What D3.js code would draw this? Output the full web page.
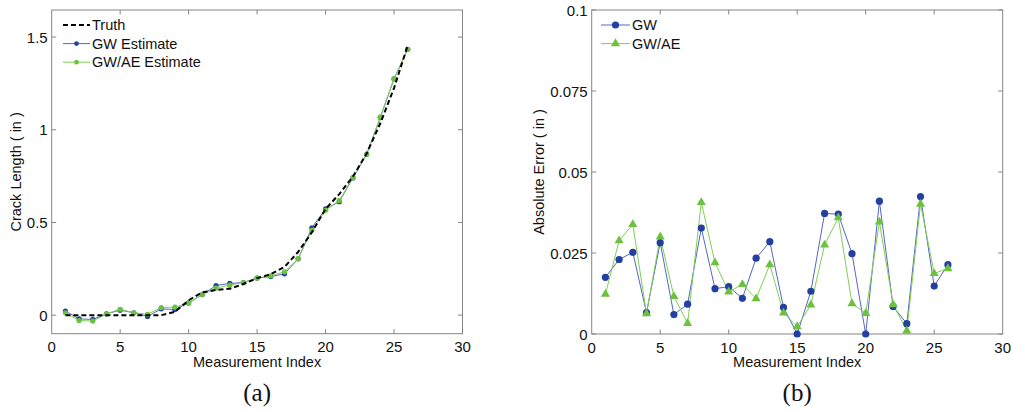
<!DOCTYPE html>
<html>
<head>
<meta charset="utf-8">
<script src="https://cdnjs.cloudflare.com/ajax/libs/d3/7.8.5/d3.min.js"></script>
<style>
  body { margin: 0; background: #fff; }
  svg text { font-family: "Liberation Sans", Arial, sans-serif; fill: #111; }
</style>
</head>
<body>
<div id="chart"></div>
<script>
// measurement index
var idx = [1,2,3,4,5,6,7,8,9,10,11,12,13,14,15,16,17,18,19,20,21,22,23,24,25,26];

// (a) crack length (in)
var truth = [0,0,0,0,0,0,0,0,0.018,0.08,0.123,0.136,0.142,0.168,0.2,0.221,0.26,0.341,0.447,0.573,0.653,0.748,0.872,1.035,1.225,1.455];
var gwEst = [0.022,-0.02,-0.023,0.007,0.027,0.013,-0.007,0.034,0.03,0.066,0.111,0.16,0.171,0.176,0.2,0.208,0.223,0.304,0.471,0.573,0.612,0.74,0.868,1.066,1.275,1.434];
var aeEst = [0.013,-0.029,-0.032,0.007,0.032,0.013,0.005,0.041,0.043,0.066,0.111,0.146,0.162,0.176,0.2,0.212,0.234,0.305,0.458,0.566,0.618,0.742,0.868,1.069,1.275,1.434];

// (b) absolute error (in)
var gwErr = [0.0175,0.023,0.0252,0.0066,0.0282,0.006,0.0092,0.0327,0.014,0.0146,0.011,0.0234,0.0285,0.0082,0,0.0132,0.0372,0.037,0.0248,0,0.041,0.0085,0.0032,0.0424,0.0148,0.0214];
var aeErr = [0.0123,0.0288,0.0338,0.0063,0.030,0.0116,0.0033,0.0406,0.022,0.013,0.0153,0.0109,0.0214,0.0065,0.0023,0.009,0.0275,0.0359,0.0094,0.0064,0.0346,0.0091,0.001,0.0401,0.0187,0.0202];

var xTicks = [0,5,10,15,20,25,30];
var yTicksA = [0,0.5,1,1.5];
var yTickLabelsA = ["0","0.5","1","1.5"];
var yTicksB = [0,0.025,0.05,0.075,0.1];
var yTickLabelsB = ["0","0.025","0.05","0.075","0.1"];

var blue = "#2340a0", blueLine = "#5566c4";
var green = "#6cc23e", greenLine = "#7fcf55";
var frameColor = "#858585";

var svg = d3.select("#chart").append("svg")
  .attr("width", 1012)
  .attr("height", 412);

function panel(opt) {
  var x = d3.scaleLinear().domain([0, 30]).range([opt.left, opt.right]);
  var y = d3.scaleLinear().domain(opt.yDomain).range([opt.bottom, opt.top]);
  var g = svg.append("g");

  // inward ticks on all four sides
  var tl = 4.5;
  g.selectAll(".xt").data(xTicks.slice(1, -1)).enter().append("path")
    .attr("d", function(d) {
      return "M" + x(d) + "," + opt.bottom + "v" + (-tl) + "M" + x(d) + "," + opt.top + "v" + tl;
    })
    .attr("stroke", frameColor).attr("stroke-width", 1);
  g.selectAll(".yt").data(opt.yTicks).enter().append("path")
    .attr("d", function(d) {
      return "M" + opt.left + "," + y(d) + "h" + tl + "M" + opt.right + "," + y(d) + "h" + (-tl);
    })
    .attr("stroke", frameColor).attr("stroke-width", 1);

  g.append("rect")
    .attr("x", opt.left).attr("y", opt.top)
    .attr("width", opt.right - opt.left).attr("height", opt.bottom - opt.top)
    .attr("fill", "none").attr("stroke", frameColor).attr("stroke-width", 1);

  g.selectAll(".xl").data(xTicks).enter().append("text")
    .attr("x", function(d) { return x(d); })
    .attr("y", opt.bottom + 18.5)
    .attr("text-anchor", "middle")
    .style("font-size", "15px")
    .text(function(d) { return d; });
  g.selectAll(".yl").data(opt.yTicks).enter().append("text")
    .attr("x", opt.left - 4)
    .attr("y", function(d) { return y(d) + 5.5; })
    .attr("text-anchor", "end")
    .style("font-size", "15px")
    .text(function(d, i) { return opt.yLabels[i]; });

  g.append("text")
    .attr("x", (opt.left + opt.right) / 2)
    .attr("y", opt.bottom + 33)
    .attr("text-anchor", "middle")
    .style("font-size", "14.5px")
    .text("Measurement Index");
  g.append("text")
    .attr("transform", "translate(" + opt.yLabelX + "," + ((opt.top + opt.bottom) / 2) + ") rotate(-90)")
    .attr("text-anchor", "middle")
    .style("font-size", "14.5px")
    .text(opt.yLabel);
  g.append("text")
    .attr("x", (opt.left + opt.right) / 2)
    .attr("y", 401)
    .attr("text-anchor", "middle")
    .style("font-family", "'Liberation Serif', 'Times New Roman', serif")
    .style("font-size", "25px")
    .text(opt.caption);

  return { g: g, x: x, y: y };
}

function series(p, vals, lineColor, width, dash) {
  var line = d3.line()
    .x(function(d, i) { return p.x(idx[i]); })
    .y(function(d) { return p.y(d); });
  p.g.append("path")
    .datum(vals)
    .attr("d", line)
    .attr("fill", "none")
    .attr("stroke", lineColor)
    .attr("stroke-width", width)
    .attr("stroke-dasharray", dash || null);
}

function dots(p, vals, color, r) {
  p.g.selectAll(null).data(vals).enter().append("circle")
    .attr("cx", function(d, i) { return p.x(idx[i]); })
    .attr("cy", function(d) { return p.y(d); })
    .attr("r", r)
    .attr("fill", color);
}

function tris(p, vals, color, size) {
  var sym = d3.symbol().type(d3.symbolTriangle).size(size);
  p.g.selectAll(null).data(vals).enter().append("path")
    .attr("d", sym)
    .attr("transform", function(d, i) { return "translate(" + p.x(idx[i]) + "," + p.y(d) + ")"; })
    .attr("fill", color);
}

// ---- (a)
var pa = panel({
  left: 51.7, right: 462.5, top: 10, bottom: 333.7,
  yDomain: [-0.1, 1.646], yTicks: yTicksA, yLabels: yTickLabelsA,
  yLabel: "Crack Length ( in )", yLabelX: 21, caption: "(a)"
});
series(pa, gwEst, blueLine, 1);
dots(pa, gwEst, blue, 2.6);
series(pa, aeEst, greenLine, 1);
dots(pa, aeEst, green, 2.6);
series(pa, truth, "#000", 2, "5,3");

// legend (a)
var legA = [
  { name: "Truth", color: "#000", line: "#000", w: 2, dash: "5,3", marker: false },
  { name: "GW Estimate", color: blue, line: blueLine, w: 1, marker: true },
  { name: "GW/AE Estimate", color: green, line: greenLine, w: 1, marker: true }
];
legA.forEach(function(d, i) {
  var yy = 25 + i * 18.6;
  pa.g.append("line")
    .attr("x1", 63).attr("x2", 90).attr("y1", yy).attr("y2", yy)
    .attr("stroke", d.line).attr("stroke-width", d.w)
    .attr("stroke-dasharray", d.dash || null);
  if (d.marker) {
    pa.g.append("circle").attr("cx", 76.5).attr("cy", yy).attr("r", 2.4).attr("fill", d.color);
  }
  pa.g.append("text").attr("x", 92).attr("y", yy + 5)
    .style("font-size", "14.5px").text(d.name);
});

// ---- (b)
var pb = panel({
  left: 591.7, right: 1002.7, top: 10, bottom: 334,
  yDomain: [0, 0.1], yTicks: yTicksB, yLabels: yTickLabelsB,
  yLabel: "Absolute Error ( in )", yLabelX: 544, caption: "(b)"
});
series(pb, gwErr, blueLine, 1);
series(pb, aeErr, greenLine, 1);
dots(pb, gwErr, blue, 3.6);
tris(pb, aeErr, green, 36);

// legend (b)
[{ name: "GW", color: blue, line: blueLine, tri: false },
 { name: "GW/AE", color: green, line: greenLine, tri: true }].forEach(function(d, i) {
  var yy = 25 + i * 18.6;
  pb.g.append("line")
    .attr("x1", 601).attr("x2", 630).attr("y1", yy).attr("y2", yy)
    .attr("stroke", d.line).attr("stroke-width", 1);
  if (d.tri) {
    pb.g.append("path").attr("d", d3.symbol().type(d3.symbolTriangle).size(36))
      .attr("transform", "translate(615.5," + yy + ")").attr("fill", d.color);
  } else {
    pb.g.append("circle").attr("cx", 615.5).attr("cy", yy).attr("r", 3.6).attr("fill", d.color);
  }
  pb.g.append("text").attr("x", 632).attr("y", yy + 5)
    .style("font-size", "14.5px").text(d.name);
});
</script>
</body>
</html>
